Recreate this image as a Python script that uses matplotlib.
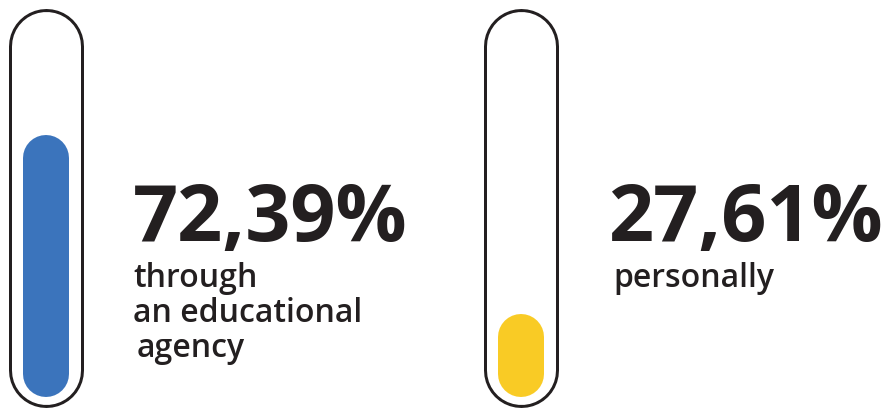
import matplotlib.pyplot as plt

# -----------------------------
# Data
# -----------------------------
values = [72.39, 27.61]
value_labels = ["72,39%", "27,61%"]
captions = [["through", "an educational", "agency"], ["personally"]]
colors = ["#3b74bc", "#f9cb25"]

# -----------------------------
# Layout (pixel units, 888 x 409 canvas)
# -----------------------------
W, H = 888, 409
tube_x = [45.5, 520.5]
num_x = [133, 608]
cap_x = [[133, 133, 137], [613]]
PX_PER_PCT = 3.997
ZERO_PX = 447.4           # pixel row where 0 % would sit
FILL_BASE = 18.35         # lowest level of the fill (in % units)
TUBE_RANGE = (19.24, 100.55)

fig = plt.figure(figsize=(W / 100, H / 100), dpi=100)
ax = fig.add_axes([0, 0, 1, 1])
ax.set_xlim(0, W)
ax.set_ylim((ZERO_PX - H) / PX_PER_PCT, ZERO_PX / PX_PER_PCT)
ax.axis("off")

pt = 72 / 100  # points per pixel
ink = "#231f20"

for i, v in enumerate(values):
    x = tube_x[i]
    # outline: black capsule with a white capsule inside
    ax.plot([x, x], TUBE_RANGE, color=ink, lw=75 * pt,
            solid_capstyle="round", zorder=1)
    ax.plot([x, x], TUBE_RANGE, color="white", lw=69 * pt,
            solid_capstyle="round", zorder=2)
    # fill level
    ax.plot([x + 0.5, x + 0.5], [FILL_BASE, v], color=colors[i], lw=46 * pt,
            solid_capstyle="round", zorder=3)

    ax.text(num_x[i] / W, 1 - 241 / H, value_labels[i], transform=ax.transAxes,
            fontsize=57, fontweight="bold", family="Open Sans",
            color=ink, ha="left", va="baseline")
    for k, line in enumerate(captions[i]):
        ax.text(cap_x[i][k] / W, 1 - (287 + 35 * k) / H, line,
                transform=ax.transAxes, fontsize=23, fontweight="semibold",
                family="Open Sans", color=ink, ha="left", va="baseline")

fig.savefig("out.png", dpi=100)
